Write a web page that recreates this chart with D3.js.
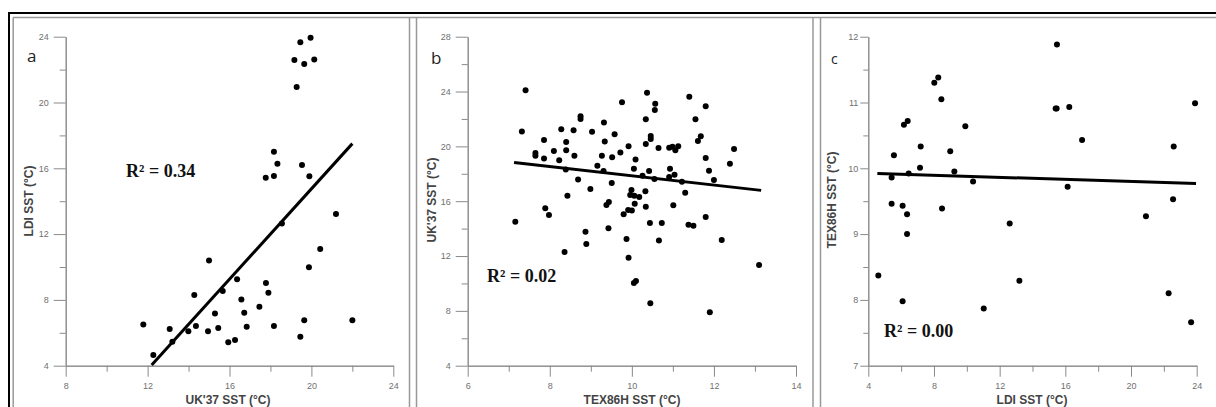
<!DOCTYPE html>
<html><head><meta charset="utf-8">
<script src="https://cdn.jsdelivr.net/npm/d3@7"></script>
<style>
html,body{margin:0;padding:0;background:#fff;}
svg{display:block;}
.tick text{font-family:"Liberation Sans",Arial,sans-serif;}
</style></head>
<body>
<script>
// ---------- data ----------
const aX = [19.96,19.46,19.17,19.65,20.14,19.28,18.17,18.34,17.77,18.17,19.54,19.90,18.56,21.20,20.43,19.88,15.00,16.37,17.78,17.90,14.28,15.67,16.58,15.29,16.72,17.46,11.79,13.08,14.36,13.99,14.95,15.45,16.84,18.17,19.65,22.00,19.46,15.94,16.27,13.21,12.28];
const aY = [23.94,23.66,22.58,22.34,22.62,20.94,17.01,16.28,15.43,15.53,16.20,15.51,12.65,13.22,11.09,9.98,10.40,9.25,9.03,8.44,8.30,8.54,8.03,7.18,7.22,7.59,6.51,6.23,6.41,6.09,6.09,6.29,6.37,6.41,6.76,6.76,5.76,5.42,5.56,5.46,4.65];
const aFitX = [12.2, 22.0];
const aFitY = [4.04, 17.5];

const bX = [7.41,7.16,7.32,7.65,7.65,7.86,7.86,7.89,7.98,8.10,8.23,8.28,8.40,8.40,8.39,8.43,8.36,8.58,8.60,8.69,8.75,8.75,8.87,8.89,8.99,9.03,9.16,9.27,9.32,9.34,9.31,9.38,9.44,9.43,9.51,9.52,9.58,9.72,9.76,9.80,9.87,9.92,9.91,9.92,9.96,9.99,10.00,10.05,10.10,10.05,10.09,10.06,10.07,10.18,10.26,10.33,10.34,10.34,10.34,10.37,10.42,10.44,10.45,10.46,10.46,10.55,10.56,10.57,10.65,10.66,10.73,10.91,10.93,10.91,10.99,11.01,11.04,11.06,11.13,11.22,11.30,11.38,11.40,11.50,11.55,11.61,11.68,11.80,11.80,11.80,11.88,11.90,12.00,12.19,12.39,12.49,13.10];
const bY = [24.09,14.50,21.09,19.51,19.32,20.46,19.12,15.48,14.99,19.66,18.98,21.24,20.32,19.71,18.32,16.40,12.29,21.17,19.32,17.59,22.19,21.99,13.77,12.88,16.89,21.07,18.59,19.32,21.75,20.36,18.20,15.72,15.94,14.02,17.33,19.20,20.88,19.56,23.21,15.04,13.24,20.00,15.36,11.88,16.45,16.81,15.33,10.03,10.18,18.37,19.05,16.40,15.82,16.30,17.86,16.72,15.60,20.17,21.97,23.91,18.20,14.41,8.55,20.53,20.75,17.62,22.65,23.11,19.88,13.14,14.41,19.90,18.37,17.76,19.98,15.70,17.93,19.71,20.00,17.42,16.62,14.29,23.62,14.21,21.97,20.39,20.73,22.92,19.15,14.84,18.23,7.89,17.54,13.17,18.74,19.81,11.34];
const bFitX = [7.13, 13.15];
const bFitY = [18.83, 16.79];

const cX = [15.49,8.26,8.02,8.45,6.17,6.40,9.91,15.41,15.47,16.24,17.02,23.90,22.60,7.19,5.56,8.99,7.15,5.42,6.46,9.24,10.38,16.14,5.42,6.09,6.36,8.49,22.56,20.91,6.36,12.61,4.61,13.20,22.29,6.09,11.03,23.66];
const cY = [11.88,11.38,11.30,11.05,10.66,10.72,10.64,10.91,10.91,10.93,10.43,10.99,10.33,10.33,10.20,10.26,10.01,9.86,9.92,9.95,9.80,9.72,9.46,9.43,9.30,9.39,9.53,9.27,9.00,9.16,8.37,8.29,8.10,7.98,7.87,7.66];
const cFitX = [4.55, 23.96];
const cFitY = [9.92, 9.77];

const aXTicks = [8,12,16,20,24], aXMinor = [10,14,18,22];
const aYTicks = [4,8,12,16,20,24], aYMinor = [6,10,14,18,22];
const bXTicks = [6,8,10,12,14], bXMinor = [7,9,11,13];
const bYTicks = [4,8,12,16,20,24,28], bYMinor = [6,10,14,18,22,26];
const cXTicks = [4,8,12,16,20,24], cXMinor = [6,10,14,18,22];
const cYTicks = [7,8,9,10,11,12], cYMinor = [7.5,8.5,9.5,10.5,11.5];

const letters = ["a","b","c"];
const xTitles = ["UK'37 SST (°C)","TEX86H SST (°C)","LDI SST (°C)"];
const yTitles = ["LDI SST (°C)","UK'37 SST (°C)","TEX86H SST (°C)"];
const r2Labels = ["R² = 0.34","R² = 0.02","R² = 0.00"];

// ---------- layout ----------
const W = 1216, H = 407;
const svg = d3.select("body").append("svg").attr("width", W).attr("height", H);

// frame
const g0 = svg.append("g");
g0.append("line").attr("x1",9).attr("x2",W).attr("y1",13).attr("y2",13).attr("stroke","#000").attr("stroke-width",2);
g0.append("line").attr("x1",9).attr("x2",9).attr("y1",12).attr("y2",H).attr("stroke","#000").attr("stroke-width",2);
g0.append("line").attr("x1",13).attr("x2",W).attr("y1",17.5).attr("y2",17.5).attr("stroke","#999").attr("stroke-width",1.5);
[13.2, 409.5, 416.5, 813, 820.5].forEach(x=>{
  g0.append("line").attr("x1",x).attr("x2",x).attr("y1",17.5).attr("y2",H).attr("stroke","#999").attr("stroke-width",1.5);
});

const panels = [
  {xs:aX, ys:aY, fx:aFitX, fy:aFitY, xd:[8,24], yd:[4,24], xr:[65.7,393.3], xt:aXTicks, xm:aXMinor, yt:aYTicks, ym:aYMinor, tick:12, pad:5,
   letter:[27,62,17], ytitle:[29,201], xtitle:[228,403.5], r2:[126,177]},
  {xs:bX, ys:bY, fx:bFitX, fy:bFitY, xd:[6,14], yd:[4,28], xr:[467.7,796], xt:bXTicks, xm:bXMinor, yt:bYTicks, ym:bYMinor, tick:12, pad:5,
   letter:[431,64,17], ytitle:[432,200], xtitle:[632,403.5], r2:[487,282]},
  {xs:cX, ys:cY, fx:cFitX, fy:cFitY, xd:[4,24], yd:[7,12], xr:[868.3,1196.7], xt:cXTicks, xm:cXMinor, yt:cYTicks, ym:cYMinor, tick:8, pad:2,
   letter:[831,64,14], ytitle:[832,200], xtitle:[1032,403.5], r2:[884,337]}
];
const yR = [365.7, 36.7];

panels.forEach((p,i)=>{
  const x = d3.scaleLinear().domain(p.xd).range(p.xr);
  const y = d3.scaleLinear().domain(p.yd).range(yR);
  const g = svg.append("g");

  // minor ticks
  const xMinor = g.append("g").attr("transform",`translate(0,${yR[0]})`)
    .call(d3.axisBottom(x).tickValues(p.xm).tickSize(6).tickSizeOuter(0).tickFormat(""));
  const yMinor = g.append("g").attr("transform",`translate(${p.xr[0]},0)`)
    .call(d3.axisLeft(y).tickValues(p.ym).tickSize(p.tick===12?6:5).tickSizeOuter(0).tickFormat(""));
  // major
  const xAx = g.append("g").attr("transform",`translate(0,${yR[0]})`)
    .call(d3.axisBottom(x).tickValues(p.xt).tickSize(11).tickPadding(6).tickSizeOuter(0).tickFormat(d3.format("d")));
  const yAx = g.append("g").attr("transform",`translate(${p.xr[0]},0)`)
    .call(d3.axisLeft(y).tickValues(p.yt).tickSize(p.tick).tickPadding(p.pad).tickSizeOuter(0).tickFormat(d3.format("d")));
  [xMinor,yMinor,xAx,yAx].forEach(a=>{
    a.selectAll("path.domain").attr("stroke","#8a8a8a").attr("stroke-width",1);
    a.selectAll(".tick line").attr("stroke","#8a8a8a").attr("stroke-width",1);
    a.selectAll(".tick text").attr("fill","#707070").attr("font-size","9px");
  });

  // points
  g.append("g").selectAll("circle").data(p.xs.map((v,k)=>[v,p.ys[k]])).join("circle")
    .attr("cx",d=>x(d[0])).attr("cy",d=>y(d[1])).attr("r",3).attr("fill","#000");

  // fit line
  g.append("line").attr("x1",x(p.fx[0])).attr("y1",y(p.fy[0])).attr("x2",x(p.fx[1])).attr("y2",y(p.fy[1]))
    .attr("stroke","#000").attr("stroke-width",3);

  // letter
  g.append("text").attr("x",p.letter[0]).attr("y",p.letter[1]).text(letters[i])
    .attr("font-family","Open Sans, Liberation Sans, sans-serif").attr("font-size",p.letter[2]+"px").attr("fill","#222");

  // axis titles
  g.append("text").attr("transform",`translate(${p.ytitle[0]},${p.ytitle[1]}) rotate(-90)`)
    .attr("text-anchor","middle").attr("dy","0.35em").text(yTitles[i])
    .attr("font-family","Liberation Sans, Arial, sans-serif").attr("font-weight","bold").attr("font-size","12px").attr("fill","#444");
  g.append("text").attr("x",p.xtitle[0]).attr("y",p.xtitle[1]).attr("text-anchor","middle").text(xTitles[i])
    .attr("font-family","Liberation Sans, Arial, sans-serif").attr("font-weight","bold").attr("font-size","12px").attr("fill","#444");

  // R2
  g.append("text").attr("x",p.r2[0]).attr("y",p.r2[1]).text(r2Labels[i])
    .attr("font-family","Liberation Serif, Times New Roman, serif").attr("font-weight","bold").attr("font-size","18px").attr("fill","#111");
});
</script>
</body></html>
